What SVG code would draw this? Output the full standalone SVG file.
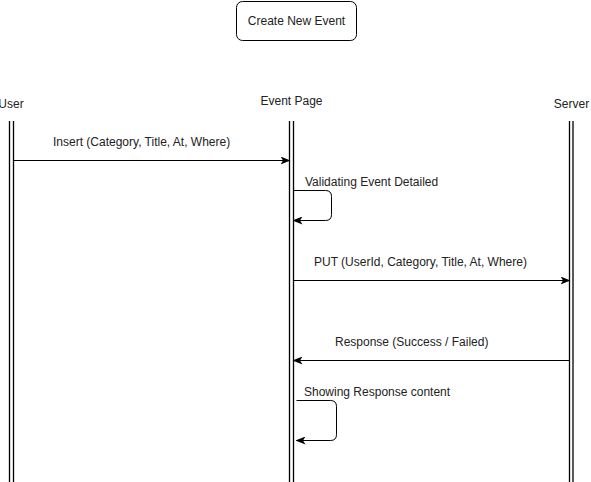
<svg xmlns="http://www.w3.org/2000/svg" width="591" height="482" viewBox="0 0 591 482">
  <style>
    text { font-family: "Liberation Sans", Arial, sans-serif; font-size: 12px; fill: #222; }
    .life { stroke: #000; stroke-width: 1.3; fill: none; }
    .msg { stroke: #000; stroke-width: 1; fill: none; marker-end: url(#arrow); }
    .box { fill: #fff; stroke: #000; stroke-width: 1; }
  </style>
  <defs>
    <marker id="arrow" viewBox="0 0 10 8" refX="9" refY="4" markerWidth="10" markerHeight="8" markerUnits="userSpaceOnUse" orient="auto">
      <path d="M0,0 L10,4 L0,8 L2.5,4 Z" fill="#000"/>
    </marker>
  </defs>
  <rect width="591" height="482" fill="#fff"/>

  <g id="title">
    <rect class="box" x="236.5" y="1.5" width="120" height="39" rx="6"/>
    <text x="296.5" y="24.5" text-anchor="middle">Create New Event</text>
  </g>

  <g id="user">
    <text x="11" y="108" text-anchor="middle">User</text>
    <line class="life" x1="9.5" y1="121" x2="9.5" y2="482"/>
    <line class="life" x1="13.5" y1="121" x2="13.5" y2="482"/>
  </g>

  <g id="event-page">
    <text x="291.5" y="105" text-anchor="middle">Event Page</text>
    <line class="life" x1="289.5" y1="121" x2="289.5" y2="482"/>
    <line class="life" x1="293.5" y1="121" x2="293.5" y2="482"/>
  </g>

  <g id="server">
    <text x="571.5" y="108" text-anchor="middle">Server</text>
    <line class="life" x1="569.5" y1="121" x2="569.5" y2="482"/>
    <line class="life" x1="573" y1="121" x2="573" y2="482"/>
  </g>

  <g id="connectors">
    <path class="msg" d="M13.5,160.5 H289.5"/>
    <text x="53" y="146">Insert (Category, Title, At, Where)</text>

    <path class="msg" d="M293.5,190.5 H325.5 Q331.5,190.5 331.5,196.5 V214.5 Q331.5,220.5 325.5,220.5 H293.5"/>
    <text x="305" y="186">Validating Event Detailed</text>

    <path class="msg" d="M293.5,280.5 H569.5"/>
    <text x="314" y="266">PUT (UserId, Category, Title, At, Where)</text>

    <path class="msg" d="M569.5,360.5 H293.5"/>
    <text x="335" y="346">Response (Success / Failed)</text>

    <path class="msg" d="M296.5,400.5 H330.5 Q336.5,400.5 336.5,406.5 V434.5 Q336.5,440.5 330.5,440.5 H296.5"/>
    <text x="304" y="396">Showing Response content</text>
  </g>
</svg>
